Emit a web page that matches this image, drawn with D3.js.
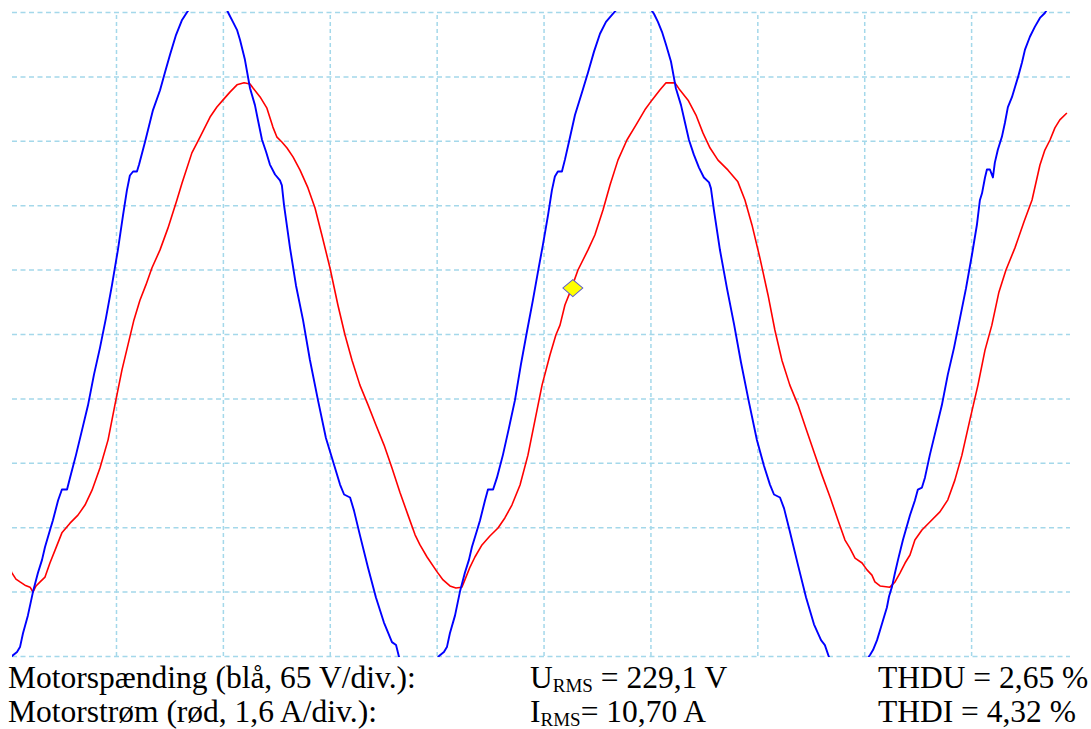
<!DOCTYPE html>
<html>
<head>
<meta charset="utf-8">
<title>Motorspænding og motorstrøm</title>
<script src="https://cdn.jsdelivr.net/npm/d3@7"></script>
<style>
  body { margin: 0; background: #fff; }
  svg { display: block; }
  text { font-family: "Liberation Serif", "Times New Roman", serif; white-space: pre; }
</style>
</head>
<body>
<svg id="scope"></svg>
<script>
// blue trace: time (ms) and motor voltage (V)
const voltTime = [
  0, 0.14, 0.37, 0.51, 0.65, 0.88, 1.12, 1.35, 1.54, 1.68, 1.91, 2.05, 2.29, 2.47, 2.71, 2.85, 3.13, 3.41, 3.69, 3.97,
  4.25, 4.53, 4.81, 5.09, 5.33, 5.51, 5.65, 5.80, 5.98, 6.08, 6.36, 6.73, 7.06, 7.29, 7.53, 7.81, 8.09, 8.27, 8.55, 8.92,
  9.49, 9.96, 10.19, 10.28, 10.47, 10.66, 10.80, 11.03, 11.27, 11.50, 11.64, 11.83, 12.02, 12.20, 12.44, 12.67, 12.76, 12.86, 13.14, 13.42,
  13.75, 14.07, 14.45, 14.82, 15.20, 15.48, 15.67, 15.95, 16.13, 16.41, 16.79, 17.16, 17.53, 17.91, 18.10, 18.24, 18.52, 19.22, 19.78, 20.11,
  20.34, 20.48, 20.62, 20.86, 21.09, 21.32, 21.51, 21.65, 21.89, 22.03, 22.26, 22.40, 22.64, 22.82, 23.10, 23.38, 23.66, 23.94, 24.22, 24.50,
  24.74, 24.97, 25.21, 25.39, 25.53, 25.67, 25.86, 26.00, 26.19, 26.47, 26.80, 27.08, 27.36, 27.64, 27.92, 28.20, 28.48, 29.04, 29.60, 29.98,
  30.17, 30.35, 30.54, 30.73, 30.96, 31.19, 31.43, 31.61, 31.80, 32.03, 32.27, 32.50, 32.74, 32.83, 32.97, 33.25, 33.58, 33.91, 34.23, 34.61,
  34.98, 35.31, 35.59, 35.78, 36.06, 36.25, 36.53, 36.90, 37.28, 37.65, 37.98, 38.16, 38.35, 38.68, 39.33, 39.89, 40.27,
  40.41, 40.60, 40.74, 40.88, 41.06, 41.16, 41.30, 41.44, 41.58, 41.81, 42.14, 42.37, 42.51, 42.70, 42.84, 43.07, 43.35, 43.63, 43.91, 44.20,
  44.48, 44.76, 45.04, 45.27, 45.41, 45.51, 45.65, 45.74, 45.88, 46.02, 46.11, 46.25, 46.44, 46.58, 46.72, 46.91, 47.05, 47.19, 47.38, 47.52,
  47.75, 47.98, 48.22, 48.45, 48.68, 49.62, 50.0
];
const voltValue = [
  -330, -325, -321, -316, -302, -284, -260, -241, -228, -215, -198, -188, -168, -157, -157, -145, -122, -97, -72, -41,
  -14, 16, 49, 85, 120, 145, 160, 164, 164, 171, 194, 226, 246, 264, 282, 302, 317, 323, 332, 339,
  340, 333, 327, 323, 315, 307, 297, 277, 248, 231, 216, 196, 184, 171, 161, 155, 150, 130, 87, 49,
  14, -26, -67, -105, -132, -152, -162, -165, -178, -203, -236, -266, -291, -311, -314, -326, -333, -341, -335, -325,
  -321, -316, -302, -284, -260, -241, -228, -215, -198, -188, -168, -157, -157, -145, -122, -95, -67, -31, 2, 34,
  63, 90, 120, 145, 159, 164, 164, 176, 194, 221, 244, 264, 285, 303, 315, 322, 329, 339, 337, 329,
  323, 315, 305, 292, 275, 248, 231, 214, 196, 181, 168, 158, 153, 147, 125, 85, 46, 10, -28, -69,
  -107, -133, -152, -162, -165, -176, -200, -233, -266, -293, -309, -314, -326, -334, -341, -335, -324,
  -319, -309, -299, -289, -276, -265, -255, -241, -228, -208, -183, -168, -157, -155, -145, -122, -97, -72, -41, -14,
  16, 46, 80, 110, 135, 142, 158, 166, 166, 158, 173, 186, 199, 213, 229, 239, 249, 259, 274, 287,
  300, 310, 319, 324, 332, 342, 343
];

// red trace: time (ms) and motor current (A)
const currTime = [
  0, 0.14, 0.32, 0.51, 0.74, 0.98, 1.12, 1.26, 1.45, 1.68, 1.91, 2.15, 2.47, 2.85, 3.22, 3.55, 3.88, 4.25, 4.63, 4.95,
  5.28, 5.56, 5.84, 6.12, 6.40, 6.68, 7.06, 7.43, 7.85, 8.09, 8.55, 8.93, 9.40, 9.72, 10.00, 10.33, 10.66, 10.99, 11.27, 11.41,
  11.74, 12.06, 12.34, 12.53, 12.76, 13.00, 13.28, 13.61, 13.98, 14.31, 14.63, 15.01, 15.38, 15.71, 16.04, 16.41, 16.79, 17.16, 17.54, 17.91,
  18.28, 18.66, 18.99, 19.22, 19.55, 20.02, 20.30, 20.62, 20.90, 21.18, 21.32, 21.56, 21.79, 22.12, 22.49, 22.87, 23.19, 23.52, 23.90, 24.27,
  24.60, 24.93, 25.30, 25.58, 25.77, 26.00, 26.24, 26.61, 27.08, 27.40, 27.78, 28.11, 28.48, 28.90, 29.32, 29.74, 30.07, 30.44, 30.73, 31.15,
  31.38, 31.76, 32.13, 32.46, 32.79, 33.16, 33.63, 34.09, 34.42, 34.75, 35.12, 35.50, 35.82, 36.15, 36.52, 36.90, 37.27, 37.65, 38.02, 38.40,
  38.77, 39.10, 39.33, 39.57, 39.90, 40.13, 40.36, 40.50, 40.74, 41.20, 41.44, 41.67, 41.91, 42.14, 42.37, 42.70, 43.07, 43.54, 43.91, 44.24,
  44.57, 44.94, 45.32, 45.65, 45.97, 46.30, 46.63, 47.05, 47.47, 47.85, 48.22, 48.45, 48.69, 48.92, 49.15, 49.48
];
const currValue = [
  -5.81, -5.94, -6.09, -6.16, -6.24, -6.29, -6.41, -6.26, -6.16, -6.04, -5.69, -5.37, -4.94, -4.70, -4.50, -4.25, -3.88, -3.33, -2.63, -1.76,
  -0.89, -0.27, 0.35, 0.84, 1.22, 1.64, 2.09, 2.63, 3.33, 3.75, 4.50, 4.89, 5.39, 5.64, 5.81, 6.01, 6.19, 6.24, 6.21, 6.11,
  5.89, 5.61, 5.14, 4.89, 4.77, 4.62, 4.40, 4.07, 3.63, 3.13, 2.46, 1.64, 0.72, -0.02, -0.65, -1.27, -1.76, -2.26, -2.76, -3.33,
  -3.93, -4.50, -4.99, -5.24, -5.54, -5.91, -6.11, -6.26, -6.31, -6.29, -6.11, -5.79, -5.54, -5.24, -5.02, -4.82, -4.57, -4.25, -3.75, -3.01,
  -2.14, -1.27, -0.52, -0.02, 0.22, 0.72, 1.04, 1.59, 2.09, 2.46, 3.08, 3.70, 4.32, 4.82, 5.19, 5.57, 5.81, 6.06, 6.24, 6.24,
  6.06, 5.81, 5.44, 4.99, 4.62, 4.32, 4.07, 3.78, 3.33, 2.71, 1.89, 0.97, 0.10, -0.65, -1.27, -1.76, -2.34, -2.93, -3.50, -4.05,
  -4.62, -5.12, -5.32, -5.57, -5.69, -5.86, -5.99, -6.16, -6.26, -6.29, -6.16, -5.94, -5.69, -5.49, -5.12, -4.87, -4.67, -4.42, -4.12, -3.63,
  -3.01, -2.14, -1.27, -0.40, 0.22, 1.04, 1.59, 2.14, 2.78, 3.33, 4.20, 4.57, 4.82, 5.12, 5.32, 5.49
];

// cursor marker on the current trace
const markerTime = [26.37];
const markerCurrent = [1.14];

// grid: 5 ms/div, 65 V/div (1,6 A/div)
const timeTicks = [5, 10, 15, 20, 25, 30, 35, 40, 45];
const voltTicks = [-325, -260, -195, -130, -65, 0, 65, 130, 195, 260, 325];

// text under the screen
const rowLabels = ["Motorspænding (blå, 65 V/div.):", "Motorstrøm (rød, 1,6 A/div.):"];
const rmsSymbols = ["U", "I"];
const rmsValues = [" = 229,1 V", "= 10,70 A"];
const thdLabels = ["THDU = 2,65 %", "THDI = 4,32 %"];

const width = 1091;
const height = 729;
const plotLeft = 12, plotRight = 1070, plotTop = 12, plotBottom = 656;

const svg = d3.select("#scope").attr("width", width).attr("height", height);

const x = d3.scaleLinear().domain([0, 50]).range([9.1, 1078]);
const yV = d3.scaleLinear().domain([-325, 325]).range([plotBottom, plotTop]);
const yI = d3.scaleLinear().domain([-8, 8]).range([plotBottom, plotTop]);

const gridColor = "#a4d8ea";

// vertical grid lines
svg.append("g")
  .attr("transform", `translate(0,${plotBottom})`)
  .call(d3.axisBottom(x).tickValues(timeTicks).tickSize(-(plotBottom - plotTop)).tickFormat(""))
  .call((g) => g.select(".domain").remove())
  .selectAll("line")
  .attr("stroke", gridColor)
  .attr("stroke-width", 1.5)
  .attr("stroke-dasharray", "4,3");

// horizontal grid lines
svg.append("g")
  .attr("transform", `translate(${plotLeft},0)`)
  .call(d3.axisLeft(yV).tickValues(voltTicks).tickSize(-(plotRight - plotLeft)).tickFormat(""))
  .call((g) => g.select(".domain").remove())
  .selectAll("line")
  .attr("stroke", gridColor)
  .attr("stroke-width", 1.5)
  .attr("stroke-dasharray", "5,3.5");

svg.append("clipPath")
  .attr("id", "screen")
  .append("rect")
  .attr("x", plotLeft)
  .attr("y", plotTop - 1)
  .attr("width", plotRight - plotLeft)
  .attr("height", plotBottom - plotTop + 2);

const traces = svg.append("g").attr("clip-path", "url(#screen)");

const currLine = d3.line().x((d) => x(d[0])).y((d) => yI(d[1]));
const voltLine = d3.line().x((d) => x(d[0])).y((d) => yV(d[1]));

traces.append("path")
  .datum(d3.zip(currTime, currValue))
  .attr("d", currLine)
  .attr("fill", "none")
  .attr("stroke", "#ff0000")
  .attr("stroke-width", 1.6)
  .attr("stroke-linejoin", "round");

traces.append("path")
  .datum(d3.zip(voltTime, voltValue))
  .attr("d", voltLine)
  .attr("fill", "none")
  .attr("stroke", "#0000ff")
  .attr("stroke-width", 1.9)
  .attr("stroke-linejoin", "round");

// yellow diamond cursor
svg.selectAll(".marker")
  .data(d3.zip(markerTime, markerCurrent))
  .join("path")
  .attr("class", "marker")
  .attr("d", d3.symbol(d3.symbolSquare, 200))
  .attr("transform", (d) => `translate(${x(d[0])},${yI(d[1])}) scale(1,0.85) rotate(45)`)
  .attr("fill", "#ffff00")
  .attr("stroke", "#5a5ad0")
  .attr("stroke-width", 1);

// measurement text
const rowY = [688, 722];
const fontSize = 31.5;

rowLabels.forEach((label, i) => {
  svg.append("text")
    .attr("x", 8)
    .attr("y", rowY[i])
    .attr("font-size", fontSize)
    .attr("fill", "#000")
    .text(label);

  const rms = svg.append("text")
    .attr("x", 530)
    .attr("y", rowY[i])
    .attr("font-size", fontSize)
    .attr("fill", "#000");
  rms.append("tspan").text(rmsSymbols[i]);
  rms.append("tspan").attr("font-size", 19).attr("dy", 4).text("RMS");
  rms.append("tspan").attr("dy", -4).text(rmsValues[i]);

  svg.append("text")
    .attr("x", 878)
    .attr("y", rowY[i])
    .attr("font-size", fontSize)
    .attr("fill", "#000")
    .text(thdLabels[i]);
});
</script>
</body>
</html>
